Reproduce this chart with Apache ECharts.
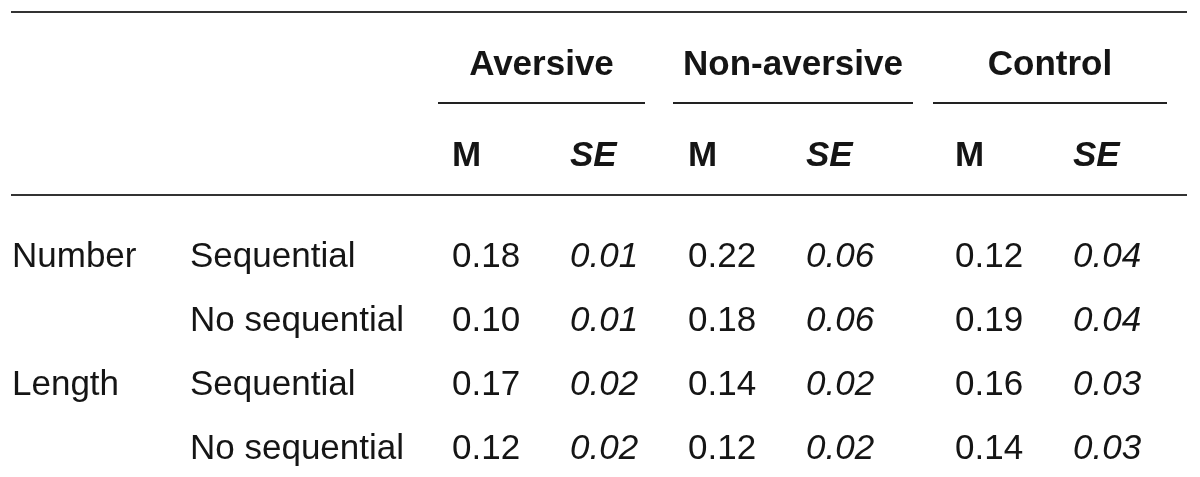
<!DOCTYPE html>
<html>
<head>
<meta charset="utf-8">
<script src="https://cdn.jsdelivr.net/npm/echarts@6/dist/echarts.min.js"></script>
<style>html,body{margin:0;padding:0;background:#fff}#c{width:1200px;height:477px}</style>
</head>
<body>
<div id="c"></div>
<script>
// ---- data ----
const groups = ['Aversive', 'Non-aversive', 'Control'];
const stats = ['M', 'SE'];
const measures = ['Number', '', 'Length', ''];
const conditions = ['Sequential', 'No sequential', 'Sequential', 'No sequential'];
const aversiveM = [0.18, 0.10, 0.17, 0.12];
const aversiveSE = [0.01, 0.01, 0.02, 0.02];
const nonAversiveM = [0.22, 0.18, 0.14, 0.12];
const nonAversiveSE = [0.06, 0.06, 0.02, 0.02];
const controlM = [0.12, 0.19, 0.16, 0.14];
const controlSE = [0.04, 0.04, 0.03, 0.03];

// ---- layout (axis units: x in px-like units, y in row units) ----
const layout = {
  colX: [12, 190, 452, 570, 688, 806, 955, 1073],
  groupSpan: [[438, 645], [673, 913], [933, 1167]],
  rowHeader: 0, rowSub: 1.42, rowData0: 3,
  rules: [-0.78, 2.08], underline: 0.64,
  ruleX: [11, 1187],
  textDy: 3
};

const cells = [];
const valueCols = [aversiveM, aversiveSE, nonAversiveM, nonAversiveSE, controlM, controlSE];
groups.forEach((g, gi) => {
  const span = layout.groupSpan[gi];
  cells.push([(span[0] + span[1]) / 2, layout.rowHeader, g, 'group']);
  stats.forEach((s, si) => {
    cells.push([layout.colX[2 + gi * 2 + si], layout.rowSub, s, si ? 'subIt' : 'sub']);
  });
});
measures.forEach((m, ri) => {
  const y = layout.rowData0 + ri;
  if (m) cells.push([layout.colX[0], y, m, 'body']);
  cells.push([layout.colX[1], y, conditions[ri], 'body']);
  valueCols.forEach((col, ci) => {
    cells.push([layout.colX[2 + ci], y, col[ri].toFixed(2), ci % 2 ? 'bodyIt' : 'body']);
  });
});

const FF = '"Liberation Sans", Arial, sans-serif';
const fonts = {
  group: 'bold 35px ' + FF,
  sub: 'bold 35px ' + FF,
  subIt: 'italic bold 35px ' + FF,
  body: '35px ' + FF,
  bodyIt: 'italic 35px ' + FF
};

const ruleLines = layout.rules.map(y => [{coord: [layout.ruleX[0], y]}, {coord: [layout.ruleX[1], y]}]);
const underLines = layout.groupSpan.map(s => [{coord: [s[0], layout.underline], lineStyle: {width: 1.8, color: '#222'}}, {coord: [s[1], layout.underline]}]);

const chart = echarts.init(document.getElementById('c'), null, {renderer: 'canvas'});
chart.setOption({
  animation: false,
  backgroundColor: '#ffffff',
  grid: {left: 0, right: 0, top: 0, bottom: 0},
  xAxis: {type: 'value', min: 0, max: 1200, show: false},
  yAxis: {type: 'value', inverse: true, min: -62 / 64, max: (477 - 62) / 64, show: false},
  series: [{
    type: 'custom',
    data: cells,
    renderItem: function (params, api) {
      const p = api.coord([api.value(0), api.value(1)]);
      const kind = cells[params.dataIndex][3];
      return {
        type: 'text',
        x: p[0], y: p[1] + layout.textDy,
        style: {
          text: cells[params.dataIndex][2],
          font: fonts[kind],
          fill: '#151515',
          align: kind === 'group' ? 'center' : 'left',
          verticalAlign: 'middle'
        }
      };
    },
    markLine: {
      silent: true,
      symbol: ['none', 'none'],
      label: {show: false},
      lineStyle: {color: '#333333', width: 2, type: 'solid'},
      data: ruleLines.concat(underLines)
    }
  }]
});
</script>
</body>
</html>
